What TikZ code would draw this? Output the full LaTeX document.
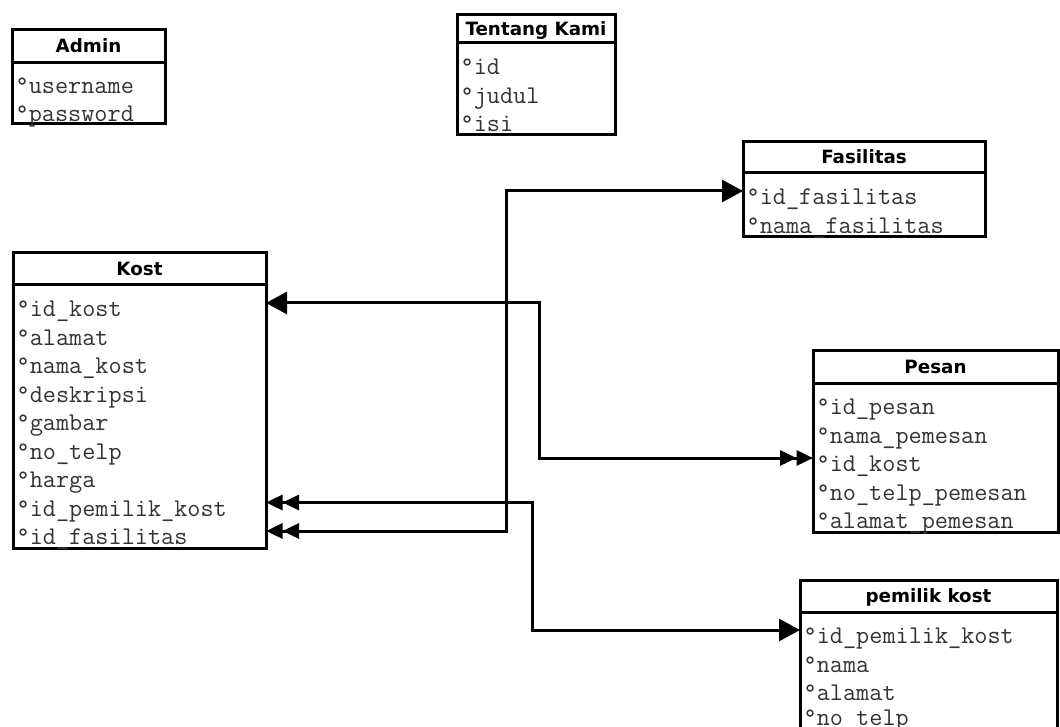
\documentclass[tikz,border=0pt]{standalone}
\usepackage{fontspec}
\newfontfamily\titlefont{DejaVu Sans}
\usepackage{tikz}
\usetikzlibrary{arrows.meta}

\newcommand\attrfont{\ttfamily\fontsize{25.5}{28}\selectfont}
\newcommand\headfont{\titlefont\bfseries\fontsize{18.3}{20}\selectfont}

\tikzset{
  onetip/.tip={Triangle[length=21pt,width=22pt]},
  twotip/.tip={Triangle[length=16.5pt,width=15pt]Triangle[length=16.5pt,width=15pt]}
}

\begin{document}
\begin{tikzpicture}[x=1pt, y=-1pt,
  entity/.style={rectangle, draw, line width=3pt, anchor=north west, outer sep=0pt, inner sep=0pt, font=\headfont, text height=13pt, text depth=0pt},
  body/.style={rectangle, draw, line width=3pt, anchor=north west, outer sep=0pt, inner sep=0pt},
  attr/.style={anchor=west, inner sep=0pt, font=\attrfont, text=black!80, text height=27.5pt, text depth=0pt},
  link/.style={line width=3pt}
]
\useasboundingbox (0,0) rectangle (1060,727);
\clip (0,0) rectangle (1060,727);

% Tables
\node[entity, minimum width=153pt, minimum height=33pt] (admin) at (12,30) {Admin};
\node[body, minimum width=153pt, minimum height=61pt] (admin-body) at (12,63) {};
\node[attr] (admin-1) at (15.5,80) {°username};
\node[attr] (admin-2) at (15.5,107.5) {°password};

\node[entity, minimum width=158pt, minimum height=28pt] (tentang) at (457,15) {Tentang Kami};
\node[body, minimum width=158pt, minimum height=92pt] (tentang-body) at (457,43) {};
\node[attr] (tentang-1) at (460.5,61) {°id};
\node[attr] (tentang-2) at (460.5,89.5) {°judul};
\node[attr] (tentang-3) at (460.5,118) {°isi};

\node[entity, minimum width=242pt, minimum height=31pt] (fas) at (743,142) {Fasilitas};
\node[body, minimum width=242pt, minimum height=63.5pt] (fas-body) at (743,173) {};
\node[attr] (fas-1) at (746.5,191) {°id\_fasilitas};
\node[attr] (fas-2) at (746.5,219.5) {°nama\_fasilitas};

\node[entity, minimum width=253pt, minimum height=32pt] (kost) at (13,253) {Kost};
\node[body, minimum width=253pt, minimum height=263pt] (kost-body) at (13,285) {};
\node[attr] (kost-1) at (16.5,303) {°id\_kost};
\node[attr] (kost-2) at (16.5,331.5) {°alamat};
\node[attr] (kost-3) at (16.5,360) {°nama\_kost};
\node[attr] (kost-4) at (16.5,388.5) {°deskripsi};
\node[attr] (kost-5) at (16.5,417) {°gambar};
\node[attr] (kost-6) at (16.5,445.5) {°no\_telp};
\node[attr] (kost-7) at (16.5,474) {°harga};
\node[attr] (kost-8) at (16.5,502.5) {°id\_pemilik\_kost};
\node[attr] (kost-9) at (16.5,531) {°id\_fasilitas};

\node[entity, minimum width=245pt, minimum height=33pt] (pesan) at (813,350) {Pesan};
\node[body, minimum width=245pt, minimum height=149pt] (pesan-body) at (813,383) {};
\node[attr] (pesan-1) at (816.5,401) {°id\_pesan};
\node[attr] (pesan-2) at (816.5,429.5) {°nama\_pemesan};
\node[attr] (pesan-3) at (816.5,458) {°id\_kost};
\node[attr] (pesan-4) at (816.5,486.5) {°no\_telp\_pemesan};
\node[attr] (pesan-5) at (816.5,515) {°alamat\_pemesan};

\node[entity, minimum width=257pt, minimum height=32pt] (pemilik) at (800,580) {pemilik kost};
\node[body, minimum width=257pt, minimum height=121pt] (pemilik-body) at (800,612) {};
\node[attr] (pemilik-1) at (803.5,630) {°id\_pemilik\_kost};
\node[attr] (pemilik-2) at (803.5,658.5) {°nama};
\node[attr] (pemilik-3) at (803.5,687) {°alamat};
\node[attr] (pemilik-4) at (803.5,712) {°no\_telp};

% Bends
\coordinate (bend-fas) at (506,0);
\coordinate (bend-pem) at (532,0);
\coordinate (bend-pesan) at (539,0);

% Relations
\draw[link, onetip-twotip] (kost-1 -| kost-body.east) -| (bend-pesan |- pesan-3) -- (pesan-3 -| pesan-body.west);
\draw[link, twotip-onetip] (kost-9 -| kost-body.east) -| (bend-fas |- fas-1) -- (fas-1 -| fas-body.west);
\draw[link, twotip-onetip] (kost-8 -| kost-body.east) -| (bend-pem |- pemilik-1) -- (pemilik-1 -| pemilik-body.west);

\end{tikzpicture}
\end{document}
